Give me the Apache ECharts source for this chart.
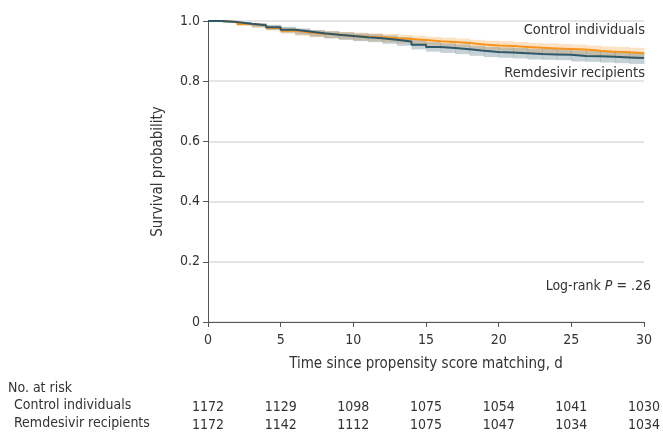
<!DOCTYPE html>
<html>
<head>
<meta charset="utf-8">
<script src="https://cdn.jsdelivr.net/npm/echarts@6.0.0/dist/echarts.min.js"></script>
<style>
  html, body { margin: 0; padding: 0; background: #fff; }
  #km { width: 663px; height: 434px; }
</style>
</head>
<body>
<div id="km"></div>
<script>
// days since matching
const days = [0, 1, 2, 3, 4, 5, 6, 7, 8, 9, 10, 11, 12, 13, 14, 15, 16, 17, 18, 19, 20, 21, 22, 23, 24, 25, 26, 27, 28, 29, 30]
// survival estimates
const controlSurv = [1.0, 0.997, 0.990, 0.985, 0.977, 0.968, 0.962, 0.958, 0.955, 0.951, 0.948, 0.946, 0.943, 0.940, 0.937, 0.933, 0.930, 0.927, 0.922, 0.919, 0.917, 0.914, 0.911, 0.909, 0.907, 0.905, 0.901, 0.898, 0.896, 0.893, 0.893]
const remdesivirSurv = [1.0, 0.997, 0.991, 0.986, 0.979, 0.971, 0.965, 0.959, 0.954, 0.950, 0.946, 0.943, 0.938, 0.932, 0.921, 0.914, 0.910, 0.906, 0.901, 0.897, 0.895, 0.893, 0.890, 0.889, 0.888, 0.884, 0.883, 0.881, 0.879, 0.877, 0.877]
// half width of the 95% band
const controlCI = [0, 0.003, 0.0055, 0.007, 0.0085, 0.010, 0.011, 0.0115, 0.012, 0.0125, 0.013, 0.0133, 0.0136, 0.014, 0.0142, 0.0145, 0.0148, 0.015, 0.0155, 0.0158, 0.016, 0.0162, 0.0165, 0.0167, 0.0168, 0.017, 0.0173, 0.0175, 0.0177, 0.018, 0.018]
const remdesivirCI = [0, 0.003, 0.0055, 0.007, 0.0085, 0.0098, 0.0105, 0.0112, 0.012, 0.0125, 0.013, 0.0134, 0.0138, 0.0143, 0.0152, 0.0158, 0.016, 0.0163, 0.0167, 0.017, 0.0172, 0.0175, 0.0178, 0.018, 0.0182, 0.0185, 0.0187, 0.019, 0.0192, 0.0195, 0.0195]
// number at risk table
const riskDays = [0, 5, 10, 15, 20, 25, 30]
const controlRisk = [1172, 1129, 1098, 1075, 1054, 1041, 1030]
const remdesivirRisk = [1172, 1142, 1112, 1075, 1047, 1034, 1034]

const FONT = '"Liberation Sans Narrow", "DejaVu Sans Condensed", sans-serif'
const TXT = '#333'

const chart = echarts.init(document.getElementById('km'))

// one rect per step interval: [from, to, low, high]
function bandSeries(surv, ci, color) {
  const data = []
  for (let i = 0; i < days.length - 1; i++) {
    data.push([days[i], days[i + 1], surv[i] - ci[i], surv[i] + ci[i]])
  }
  return {
    type: 'custom', silent: true,
    encode: { x: [0, 1], y: [2, 3] },
    renderItem(params, api) {
      const p0 = api.coord([api.value(0), api.value(3)])
      const p1 = api.coord([api.value(1), api.value(2)])
      return {
        type: 'rect',
        shape: { x: p0[0], y: p0[1], width: p1[0] - p0[0] + 0.5, height: p1[1] - p0[1] },
        style: { fill: color }
      }
    },
    data: data
  }
}

// extra x axes that only carry the at-risk numbers
function riskAxis(counts, offset) {
  return {
    type: 'value', min: 0, max: 30, interval: 5, position: 'bottom', offset: offset,
    axisLine: { show: false }, axisTick: { show: false }, splitLine: { show: false },
    axisLabel: {
      fontFamily: FONT, fontSize: 14, color: TXT, margin: 0,
      formatter: v => {
        const i = riskDays.indexOf(v)
        return i < 0 ? '' : String(counts[i])
      }
    }
  }
}

const options = {
  animation: false,
  textStyle: { fontFamily: FONT },
  grid: { left: 208, right: 18, top: 21, bottom: 112 },
  xAxis: [
    {
      type: 'value', min: 0, max: 30, interval: 5,
      name: 'Time since propensity score matching, d',
      nameLocation: 'middle', nameGap: 35,
      nameTextStyle: { fontFamily: FONT, fontSize: 15, color: TXT },
      axisLine: { show: true, lineStyle: { color: '#555', width: 1 } },
      axisTick: { show: true, length: 5, lineStyle: { color: '#555' } },
      splitLine: { show: false },
      axisLabel: { fontFamily: FONT, fontSize: 14, color: TXT, margin: 11 }
    },
    riskAxis(controlRisk, 78),
    riskAxis(remdesivirRisk, 96)
  ],
  yAxis: {
    type: 'value', min: 0, max: 1, interval: 0.2,
    name: 'Survival probability',
    nameLocation: 'middle', nameGap: 42,
    nameTextStyle: { fontFamily: FONT, fontSize: 15, color: TXT },
    axisLine: { show: true, lineStyle: { color: '#555', width: 1 } },
    axisTick: { show: true, length: 5, lineStyle: { color: '#555' } },
    splitLine: { show: true, lineStyle: { color: '#dcdcdc', width: 1.5 } },
    axisLabel: {
      fontFamily: FONT, fontSize: 14, color: TXT, margin: 8,
      formatter: v => (v === 0 ? '0' : v.toFixed(1))
    }
  },
  series: [
    bandSeries(controlSurv, controlCI, 'rgba(247,148,29,0.26)'),
    bandSeries(remdesivirSurv, remdesivirCI, 'rgba(46,88,104,0.28)'),
    {
      name: 'Control individuals', type: 'line', step: 'end', symbol: 'none',
      lineStyle: { color: '#f7941d', width: 2 },
      data: days.map((d, i) => [d, controlSurv[i]])
    },
    {
      name: 'Remdesivir recipients', type: 'line', step: 'end', symbol: 'none',
      lineStyle: { color: '#2e5868', width: 2 },
      data: days.map((d, i) => [d, remdesivirSurv[i]])
    }
  ],
  graphic: [
    { type: 'text', right: 18, top: 23, style: { text: 'Control individuals', font: '14.5px ' + FONT, fill: TXT } },
    { type: 'text', right: 18, top: 66, style: { text: 'Remdesivir recipients', font: '14.5px ' + FONT, fill: TXT } },
    {
      type: 'text', right: 12, top: 279,
      style: {
        text: '{n|Log-rank }{i|P}{n| = .26}',
        rich: {
          n: { fontFamily: FONT, fontSize: 14, fill: TXT },
          i: { fontFamily: FONT, fontSize: 14, fontStyle: 'italic', fill: TXT }
        }
      }
    },
    { type: 'text', left: 8, top: 381, style: { text: 'No. at risk', font: '14px ' + FONT, fill: TXT } },
    { type: 'text', left: 14, top: 398, style: { text: 'Control individuals', font: '14px ' + FONT, fill: TXT } },
    { type: 'text', left: 14, top: 416, style: { text: 'Remdesivir recipients', font: '14px ' + FONT, fill: TXT } }
  ]
}

chart.setOption(options)
</script>
</body>
</html>
